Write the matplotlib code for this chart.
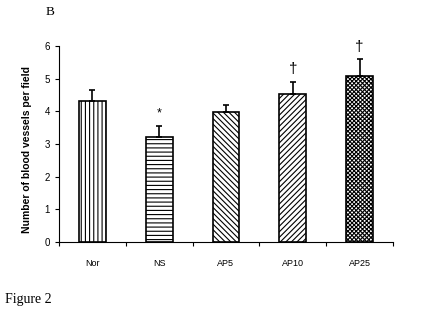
import matplotlib.pyplot as plt
import numpy as np

plt.rcParams["hatch.linewidth"] = 0.8

groups = ["Nor", "NS", "AP5", "AP10", "AP25"]
means = [4.32, 3.22, 3.99, 4.52, 5.07]
errors = [0.33, 0.34, 0.22, 0.37, 0.52]
marks = ["", "*", "", "\u2020", "\u2020"]
hatches = ["||||", "----", "\\\\\\\\\\\\", "//////", "xxxxxxxx"]

fig = plt.figure(figsize=(4.39, 3.29), dpi=100)
ax = fig.add_axes([0.1344, 0.2644, 0.7606, 0.5956])

x = np.arange(len(groups))
for i in range(len(groups)):
    ax.bar(x[i], means[i], width=0.4, color="white", edgecolor="black",
           linewidth=1.2, hatch=hatches[i], zorder=2)
    ax.errorbar(x[i], means[i], yerr=[[0], [errors[i]]], fmt="none",
                ecolor="black", elinewidth=1.2, capsize=2.5, capthick=1.2, zorder=3)
    if marks[i]:
        ax.text(x[i], means[i] + errors[i] + 0.18, marks[i], ha="center", va="bottom",
                fontsize=9 if marks[i] == "*" else 11, family="Liberation Sans")

ax.set_xlim(-0.5, len(groups) - 0.5)
ax.set_ylim(0, 6)
ax.set_yticks(range(7))
ax.set_xticks(np.arange(len(groups) + 1) - 0.5, minor=False)
ax.set_xticklabels([])
ax.set_xticks(x, minor=True)
ax.set_xticklabels(groups, minor=True, fontsize=6.5, family="Liberation Sans")
ax.tick_params(axis="x", which="minor", length=0, pad=12)
ax.tick_params(axis="x", which="major", length=3, direction="out", width=0.8)
ax.tick_params(axis="y", labelsize=7, length=3, width=0.8)
for lab in ax.get_yticklabels():
    lab.set_family("Liberation Sans")

ax.spines["top"].set_visible(False)
ax.spines["right"].set_visible(False)
ax.spines["left"].set_linewidth(0.8)
ax.spines["bottom"].set_linewidth(0.8)

ax.set_ylabel("Number of blood vessels per field", fontsize=7.5, fontweight="bold",
              family="Liberation Sans")
ax.yaxis.set_label_coords(-0.081, 0.47)

fig.text(46 / 439, 1 - 12 / 329, "B", fontsize=9.5, family="Liberation Serif", va="center")
fig.text(5 / 439, 1 - 300 / 329, "Figure 2", fontsize=10, family="Liberation Serif", va="center")

fig.savefig("out.png", dpi=100)
